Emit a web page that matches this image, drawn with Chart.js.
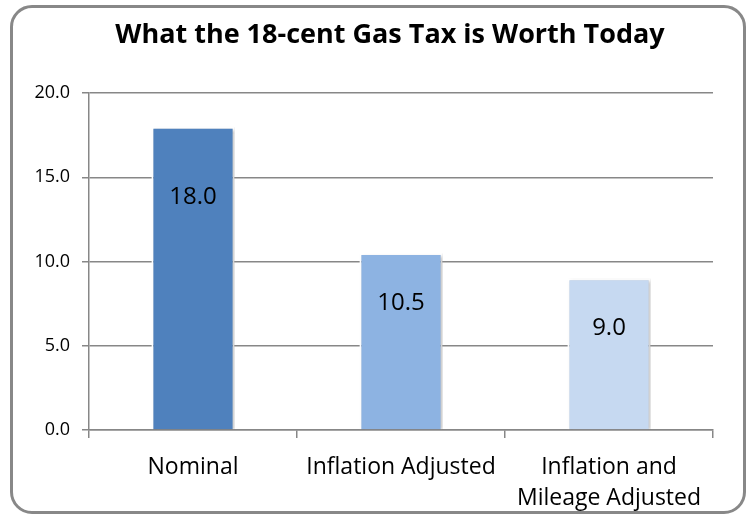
<!DOCTYPE html>
<html>
<head>
<meta charset="utf-8">
<script src="https://cdn.jsdelivr.net/npm/chart.js"></script>
<style>
  html, body { margin: 0; padding: 0; background: #fff; }
  #wrap { position: relative; width: 747px; height: 515px; overflow: hidden; }
  #frame {
    position: absolute; left: 10px; top: 5px; width: 730px; height: 503px;
    border: 3px solid #888; border-radius: 22px; pointer-events: none;
  }
  canvas { position: absolute; left: 0; top: 0; }
</style>
</head>
<body>
<div id="wrap">
  <canvas id="chart" width="747" height="515"></canvas>
  <div id="frame"></div>
</div>
<script>
// Данные графика
const chartTitle = 'What the 18-cent Gas Tax is Worth Today';
const categories = ['Nominal', 'Inflation Adjusted', ['Inflation and', 'Mileage Adjusted']];
const taxValues = [18.0, 10.5, 9.0];
const barColors = ['#4F81BD', '#8DB3E2', '#C6D9F1'];
const yTicks = [0, 5, 10, 15, 20];

const FONT = "'Open Sans', sans-serif";
const GRID = '#878787';

// Заголовок рисуем сами, чтобы поставить его по центру рамки
const titlePlugin = {
    id: 'titlePlugin',
    afterDraw(chart, args, opts) {
        const ctx = chart.ctx;
        ctx.save();
        ctx.font = 'bold 27px ' + FONT;
        ctx.fillStyle = '#000';
        ctx.textAlign = 'center';
        ctx.textBaseline = 'middle';
        ctx.fillText(chartTitle, opts.x, opts.y);
        ctx.restore();
    }
};

// Подписи значений внутри столбцов
const valueLabels = {
    id: 'valueLabels',
    afterDatasetsDraw(chart, args, opts) {
        const ctx = chart.ctx;
        const meta = chart.getDatasetMeta(0);
        ctx.save();
        ctx.font = '24px ' + FONT;
        ctx.fillStyle = '#000';
        ctx.textAlign = 'center';
        ctx.textBaseline = 'middle';
        meta.data.forEach((bar, i) => {
            ctx.fillText(taxValues[i].toFixed(1), bar.x, bar.y + opts.offsets[i]);
        });
        ctx.restore();
    }
};

// Лёгкая тень у столбцов
const barShadow = {
    id: 'barShadow',
    beforeDatasetsDraw(chart) {
        const ctx = chart.ctx;
        ctx.save();
        ctx.shadowColor = 'rgba(0,0,0,0.22)';
        ctx.shadowOffsetX = 2;
        ctx.shadowOffsetY = 1;
        ctx.shadowBlur = 3;
    },
    afterDatasetsDraw(chart) {
        chart.ctx.restore();
    }
};

new Chart(document.getElementById('chart'), {
    type: 'bar',
    data: {
        labels: categories,
        datasets: [{
            data: taxValues,
            backgroundColor: barColors,
            borderColor: '#fff',
            borderWidth: 2,
            barPercentage: 0.4,
            categoryPercentage: 1.0
        }]
    },
    plugins: [barShadow, valueLabels, titlePlugin],
    options: {
        responsive: false,
        animation: false,
        layout: { padding: { left: 0, right: 34, top: 93, bottom: 0 } },
        plugins: {
            legend: { display: false },
            tooltip: { enabled: false },
            title: { display: false },
            titlePlugin: { x: 390, y: 35 },
            valueLabels: { offsets: [70, 50, 50] }
        },
        scales: {
            x: {
                offset: true,
                afterFit(scale) { scale.height = 85; },
                grid: {
                    offset: true,
                    drawOnChartArea: false,
                    color: GRID,
                    lineWidth: 1.5,
                    tickLength: 8
                },
                border: { color: GRID, width: 1.5 },
                ticks: {
                    color: '#000',
                    padding: 14,
                    maxRotation: 0,
                    font: { family: FONT, size: 23, lineHeight: 1.35 }
                }
            },
            y: {
                min: 0,
                max: 20,
                afterFit(scale) { scale.width = 89; },
                afterBuildTicks(scale) {
                    scale.ticks = yTicks.map(v => ({ value: v }));
                },
                grid: { color: GRID, lineWidth: 1.5, tickLength: 7 },
                border: { color: GRID, width: 1.5 },
                ticks: {
                    color: '#000',
                    padding: 12,
                    font: { family: FONT, size: 18 },
                    callback: v => Number(v).toFixed(1)
                }
            }
        }
    }
});
</script>
</body>
</html>
